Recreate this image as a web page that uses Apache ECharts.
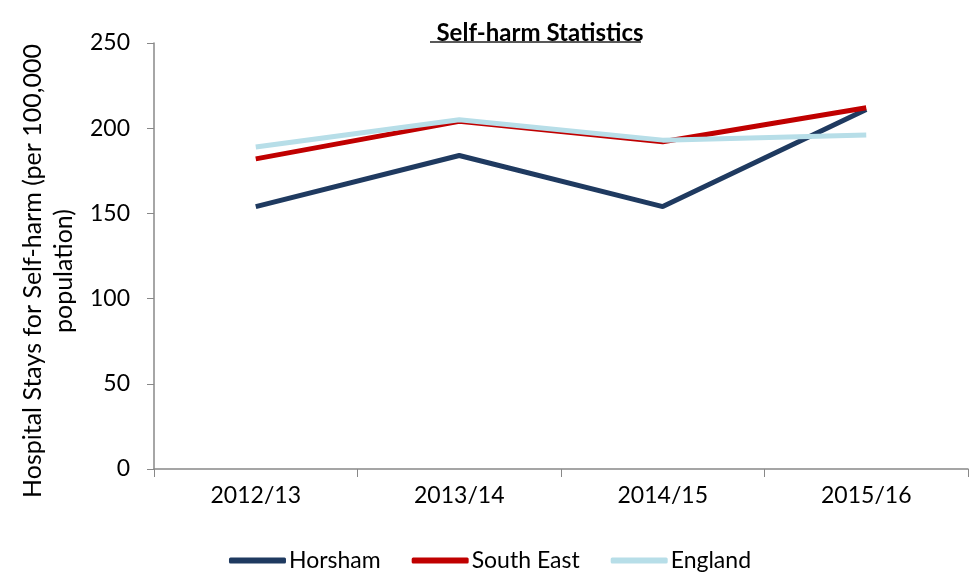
<!DOCTYPE html>
<html><head><meta charset="utf-8">
<script src="https://cdn.jsdelivr.net/npm/echarts@6/dist/echarts.min.js"></script>
<style>html,body{margin:0;padding:0;background:#fff}#c{width:980px;height:572px}</style>
</head><body><div id="c"></div>
<script>
var categories = ['2012/13', '2013/14', '2014/15', '2015/16'];
var horsham = [154, 184, 154, 211];
var southEast = [182, 204, 192, 212];
var england = [189, 205, 193, 196];
var yTicks = [0, 50, 100, 150, 200, 250];

var font = 'Lato, "Open Sans", sans-serif';
var chart = echarts.init(document.getElementById('c'));
chart.setOption({
  animation: false,
  title: {
    text: 'Self-harm Statistics',
    left: 535, top: 16, textAlign: 'center',
    textStyle: {fontFamily: font, fontSize: 24, fontWeight: 'bold', color: '#000'}
  },
  graphic: [{type: 'line', shape: {x1: 430, y1: 42, x2: 641, y2: 42}, style: {stroke: '#222', lineWidth: 1.5}}],
  legend: {
    top: 544, left: 'center', itemWidth: 57, itemHeight: 6, itemGap: 31,
    icon: 'roundRect',
    textStyle: {fontFamily: font, fontSize: 23, color: '#000', padding: [0,0,0,-2]},
    data: ['Horsham', 'South East', 'England']
  },
  grid: {left: 154, right: 12, top: 43, bottom: 103},
  xAxis: {
    type: 'category', data: categories, boundaryGap: true,
    axisLine: {lineStyle: {color: '#888', width: 1.5}},
    axisTick: {show: true, length: 8, lineStyle: {color: '#888'}},
    axisLabel: {fontFamily: font, fontSize: 23, color: '#000', margin: 15}
  },
  yAxis: {
    type: 'value', min: 0, max: 250, interval: 50,
    name: 'Hospital Stays for Self-harm (per 100,000\npopulation)',
    nameLocation: 'middle', nameGap: 68, nameRotate: 90,
    nameTextStyle: {fontFamily: font, fontSize: 25, color: '#000', lineHeight: 31, padding: [0, 30, 0, 0]},
    axisLine: {show: true, lineStyle: {color: '#888', width: 1.5}},
    axisTick: {show: true, length: 7, lineStyle: {color: '#888'}},
    splitLine: {show: false},
    axisLabel: {fontFamily: font, fontSize: 23, color: '#000', margin: 24}
  },
  series: [
    {name: 'Horsham', type: 'line', data: horsham, symbol: 'none', lineStyle: {width: 5, color: '#1F3A60'}, itemStyle: {color: '#1F3A60'}, z: 2},
    {name: 'South East', type: 'line', data: southEast, symbol: 'none', lineStyle: {width: 5, color: '#C00000'}, itemStyle: {color: '#C00000'}, z: 3},
    {name: 'England', type: 'line', data: england, symbol: 'none', lineStyle: {width: 5, color: '#B7DEE8'}, itemStyle: {color: '#B7DEE8'}, z: 4}
  ]
});
</script></body></html>
